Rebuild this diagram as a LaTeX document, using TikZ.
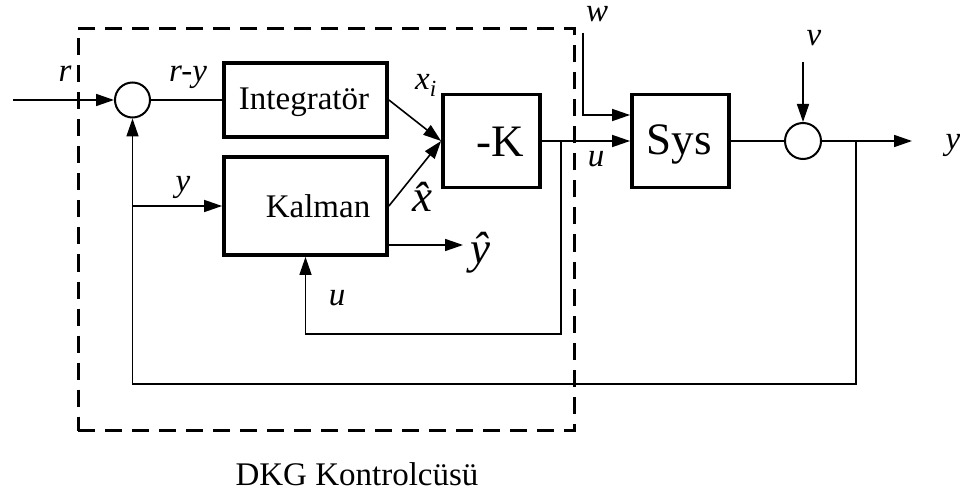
\documentclass[tikz,border=0pt]{standalone}
\usepackage{fontspec}
\setmainfont{Liberation Serif}
\usetikzlibrary{arrows.meta,calc}
\begin{document}
\begin{tikzpicture}[x=1pt,y=-1pt,
  arr/.style={-{Triangle[length=18pt,width=12pt]}, line width=1.6pt},
  wire/.style={line width=1.6pt},
  blk/.style={draw, line width=3.8pt, inner sep=0pt},
  sumc/.style={draw, circle, line width=2pt, minimum size=35pt, inner sep=0pt},
  lbl/.style={anchor=base, inner sep=0pt, font=\fontsize{33}{36}\selectfont\itshape},
  big/.style={anchor=base, inner sep=0pt, font=\fontsize{45}{48}\selectfont\itshape},
  txt/.style={anchor=base, inner sep=0pt, font=\fontsize{33}{36}\selectfont},
  bigtxt/.style={anchor=base, inner sep=0pt, font=\fontsize{45}{48}\selectfont},
  ctrlbox/.style={draw, line width=3pt, dash pattern=on 17pt off 10pt, inner sep=0pt},
]
\useasboundingbox (0,0) rectangle (960,494);

% dashed controller frame
\node[ctrlbox, minimum width=496pt, minimum height=402pt] (ctrl) at (326,229.5) {};

% blocks
\node[sumc] (s1) at (132.5,100) {};
\node[blk, minimum width=163pt, minimum height=74pt] (int) at (305.5,100) {};
\node[blk, minimum width=163pt, minimum height=98pt] (kal) at (305.5,206) {};
\node[blk, minimum width=97pt, minimum height=93pt] (K) at (491.5,141) {};
\node[blk, minimum width=97pt, minimum height=93pt] (sys) at (680.5,141) {};
\node[sumc, minimum size=36pt] (s2) at (803,141) {};

% block texts
\node[txt] (intT) at (304,110) {Integratör};
\node[txt] (kalT) at (318,218) {Kalman};
\node[bigtxt] (KT) at (500,157) {-K};
\node[bigtxt] (sysT) at (679,155) {Sys};

% free ends
\coordinate (rin) at (13,100);
\coordinate (yhat) at (463,245);
\coordinate (utap) at (561,141);
\coordinate (wtop) at (583,33);
\coordinate (vtop) at (803,62);
\coordinate (yout) at (912,141);
\coordinate (ytap) at (856,141);

% connectors
\draw[arr] (rin) -- (s1.west);
\draw[wire] (s1.east) -- (int.west);
\draw[arr] (int.east) -- (K.west);
\draw[arr] (kal.east) -- (K.west);
\draw[arr] (kal.east |- yhat) -- (yhat);
\draw[arr] (K.east) -- (sys.west);
\draw[arr] (utap) -- ++(0,193) -| (kal.south);
\draw[arr] (wtop) |- ($(sys.west)+(0,-26)$);
\draw[wire] (sys.east) -- (s2.west);
\draw[arr] (vtop) -- (s2.north);
\draw[arr] (s2.east) -- (yout);
\draw[arr] (ytap) -- ++(0,243) -| (s1.south);
\draw[arr] (s1.south |- kal.west) -- (kal.west);

% labels
\node[lbl] (lr) at (65,82) {r};
\node[lbl] (lry) at (188,82) {r-y};
\node[lbl] (ly) at (183,192) {y};
\node[lbl] (lxi) at (426,90) {x\textsubscript{\itshape i}};
\node[big] (lxh) at (422,212) {\^{x}};
\node[big] (lyh) at (480,263) {\^{y}};
\node[lbl] (lu1) at (337,305) {u};
\node[lbl] (lu2) at (596,167) {u};
\node[lbl] (lw) at (597,22) {w};
\node[lbl] (lv) at (814,46) {v};
\node[lbl] (lyo) at (953,150) {y};
\node[txt] (title) at (357,485) {DKG Kontrolcüsü};
\end{tikzpicture}
\end{document}
